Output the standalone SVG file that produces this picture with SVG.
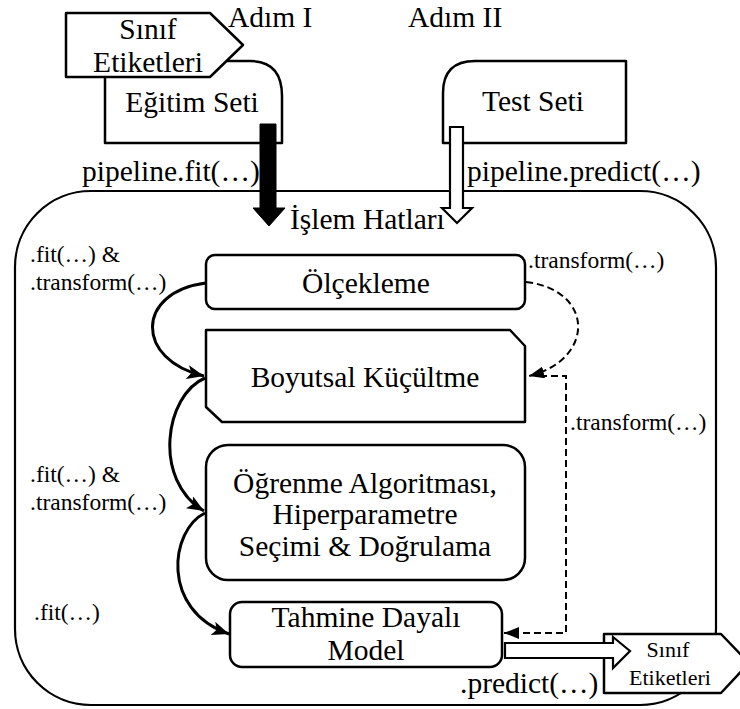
<svg xmlns="http://www.w3.org/2000/svg" width="740" height="709" viewBox="0 0 740 709" font-family="'Liberation Serif', 'DejaVu Serif', serif">
<style>
.bg{fill:#fff}
.box{fill:#fff;stroke:#000;stroke-width:2.5;stroke-linejoin:round}
.cont{fill:#fff;stroke:#000;stroke-width:2.2}
.t{font-family:'Liberation Serif','DejaVu Serif',serif;font-size:29.5px;fill:#000;text-anchor:middle}
.l{text-anchor:start}
.s{font-family:'Liberation Serif','DejaVu Serif',serif;font-size:23.5px;fill:#000;text-anchor:start}
.m{font-size:22px}
.conn{fill:none;stroke:#000;stroke-width:3}
.dash{fill:none;stroke:#000;stroke-width:2;stroke-dasharray:7 4}
.blk{fill:#000;stroke:#000;stroke-width:1}
.wht{fill:#fff;stroke:#000;stroke-width:2.2;stroke-linejoin:miter}
</style>
<defs>
<marker id="ah" markerUnits="userSpaceOnUse" markerWidth="18" markerHeight="14" refX="17" refY="7" orient="auto"><path d="M0,0 L17,7 L0,14 L4,7 z" fill="#000"/></marker>
<marker id="ahd" markerUnits="userSpaceOnUse" markerWidth="16" markerHeight="12" refX="15" refY="6" orient="auto"><path d="M0,0 L15,6 L0,12 z" fill="#000"/></marker>
</defs>
<rect class="bg" x="0" y="0" width="740" height="709"/>

<g id="pipeline">
<rect class="cont" x="15" y="191" width="701" height="514" rx="76" ry="76"/>
<text class="t l" x="290" y="229">İşlem Hatları</text>
</g>

<g id="egitim-seti">
<path class="box" d="M105,143 V61 H250 Q282,61 282,96 V143 Z"/>
<text class="t" x="192" y="112">Eğitim Seti</text>
</g>

<g id="sinif-etiketleri-in">
<polygon class="box" points="66,13 210,13 243,45 210,77 66,77"/>
<text class="t" x="148" y="39">Sınıf</text>
<text class="t" x="148" y="72">Etiketleri</text>
</g>

<g id="test-seti">
<path class="box" d="M443,143 V93 Q443,61 475,61 H626 V143 Z"/>
<text class="t" x="533" y="111">Test Seti</text>
</g>

<text class="t l" x="228" y="27">Adım I</text>
<text class="t l" x="408" y="27">Adım II</text>

<g id="olcekleme">
<rect class="box" x="206" y="255" width="319" height="54" rx="9"/>
<text class="t" x="366" y="293">Ölçekleme</text>
</g>

<g id="boyutsal">
<polygon class="box" points="206,330 510,330 525,346 525,422 222,422 206,407"/>
<text class="t" x="365" y="387">Boyutsal Küçültme</text>
</g>

<g id="ogrenme">
<rect class="box" x="206" y="445" width="319" height="135" rx="22"/>
<text class="t" x="365" y="493">Öğrenme Algoritması,</text>
<text class="t" x="365" y="524">Hiperparametre</text>
<text class="t" x="365" y="556">Seçimi &amp; Doğrulama</text>
</g>

<g id="tahmine">
<rect class="box" x="230" y="602" width="272" height="65" rx="12"/>
<text class="t" x="366" y="627">Tahmine Dayalı</text>
<text class="t" x="366" y="660">Model</text>
</g>

<g id="sinif-etiketleri-out">
<polygon class="box" points="604,634 721,634 749,663 721,693 604,693"/>
<text class="t m" x="668" y="657">Sınıf</text>
<text class="t m" x="670" y="685">Etiketleri</text>
</g>

<g id="connectors">
<polygon class="blk" points="260,124 276,124 276,208 285,208 269,226 253,208 260,208"/>
<polygon class="wht" points="450,127 463,127 463,208 472,208 457,223 442,208 450,208"/>
<path class="conn" d="M206,283 C135,292 135,360 204,376" marker-end="url(#ah)"/>
<path class="conn" d="M205,378 C165,395 152,480 204,511" marker-end="url(#ah)"/>
<path class="conn" d="M205,513 C170,530 160,610 229,634" marker-end="url(#ah)"/>
<path class="dash" d="M526,282 C595,290 595,360 529,376" marker-end="url(#ahd)"/>
<path class="dash" d="M540,376 H566 V633 H504" marker-end="url(#ahd)"/>
<polygon class="wht" points="505,643 613,643 613,637 630,651 613,668 613,658 505,658"/>
</g>

<g id="labels">
<text class="t l" x="82" y="181">pipeline.fit(…)</text>
<text class="t l" x="467" y="181">pipeline.predict(…)</text>
<text class="s" x="30" y="262">.fit(…) &amp;</text>
<text class="s" x="30" y="290">.transform(…)</text>
<text class="s" x="528" y="268">.transform(…)</text>
<text class="s" x="570" y="430">.transform(…)</text>
<text class="s" x="30" y="482">.fit(…) &amp;</text>
<text class="s" x="30" y="510">.transform(…)</text>
<text class="s" x="34" y="620">.fit(…)</text>
<text class="t l" x="460" y="693">.predict(…)</text>
</g>
</svg>
